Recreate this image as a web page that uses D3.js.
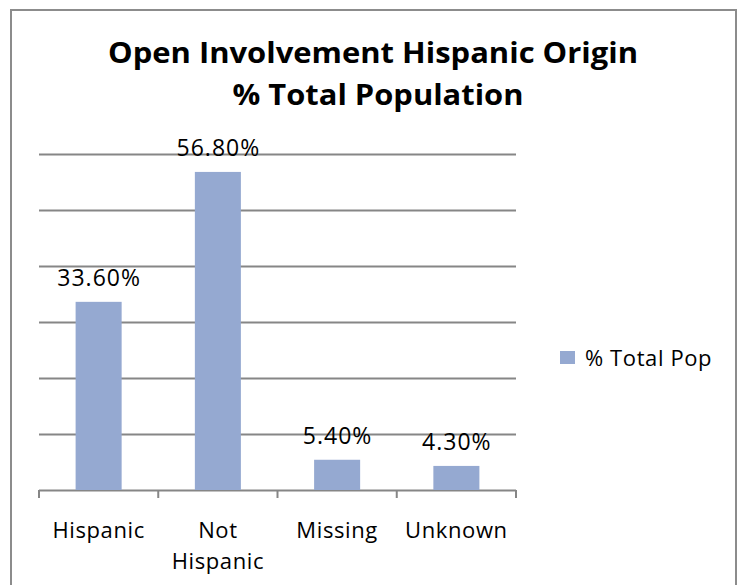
<!DOCTYPE html>
<html>
<head>
<meta charset="utf-8">
<script src="https://cdn.jsdelivr.net/npm/d3@7"></script>
<style>
  body { margin: 0; background: #fff; }
  text { font-family: "Open Sans", "Noto Sans", sans-serif; fill: #000; }
</style>
</head>
<body>
<div id="viz"></div>
<script>
const categories = ['Hispanic', 'Not Hispanic', 'Missing', 'Unknown']
const values = [33.6, 56.8, 5.4, 4.3]
const labels = ['33.60%', '56.80%', '5.40%', '4.30%']
const yTicks = [0, 10, 20, 30, 40, 50, 60]
const seriesName = '% Total Pop'
const titleLines = ['Open Involvement Hispanic Origin', '% Total Population']

const width = 742,
    height = 585

const plot = { left: 39, right: 516, top: 154, bottom: 490 }

const svg = d3.select('#viz').append('svg')
    .attr('width', width)
    .attr('height', height)

// outer frame
svg.append('rect')
    .attr('x', 11)
    .attr('y', 10)
    .attr('width', 725)
    .attr('height', 600)
    .attr('fill', 'none')
    .attr('stroke', '#8c8c8c')
    .attr('stroke-width', 2)

// title
const titleX = [373, 378],
    titleLen = [530, 291]
svg.selectAll('.title').data(titleLines)
    .enter()
    .append('text')
    .attr('class', 'title')
    .attr('x', (d, i) => titleX[i])
    .attr('y', (d, i) => 63 + i * 42)
    .attr('text-anchor', 'middle')
    .attr('font-weight', 'bold')
    .attr('font-size', 29)
    .attr('textLength', (d, i) => titleLen[i])
    .attr('lengthAdjust', 'spacingAndGlyphs')
    .text(d => d)

const x = d3.scaleBand()
    .domain(categories)
    .range([plot.left, plot.right])
    .paddingInner(0.614)
    .paddingOuter(0.307)

const y = d3.scaleLinear()
    .domain([0, 60])
    .range([plot.bottom, plot.top])

// gridlines
const yAxis = d3.axisLeft(y)
    .tickValues(yTicks)
    .tickSize(-(plot.right - plot.left))
    .tickFormat('')

const yAxisG = svg.append('g')
    .attr('transform', `translate(${plot.left}, 0)`)
    .call(yAxis)
yAxisG.select('.domain').remove()
yAxisG.selectAll('line')
    .attr('stroke', '#868686')
    .attr('stroke-width', 2)

// category tick marks at slot boundaries
const bounds = d3.range(categories.length + 1)
    .map(i => plot.left + i * x.step())
svg.selectAll('.xtick').data(bounds)
    .enter()
    .append('line')
    .attr('class', 'xtick')
    .attr('x1', d => d)
    .attr('x2', d => d)
    .attr('y1', y(0))
    .attr('y2', y(0) + 8)
    .attr('stroke', '#868686')
    .attr('stroke-width', 2)

// bars
svg.selectAll('.bar').data(values)
    .enter()
    .append('rect')
    .attr('class', 'bar')
    .attr('x', (d, i) => x(categories[i]))
    .attr('y', d => y(d))
    .attr('width', x.bandwidth())
    .attr('height', d => y(0) - y(d))
    .attr('fill', '#95a9d1')

// value labels
svg.selectAll('.vlabel').data(values)
    .enter()
    .append('text')
    .attr('class', 'vlabel')
    .attr('x', (d, i) => x(categories[i]) + x.bandwidth() / 2 + 0.5)
    .attr('y', d => y(d) - 16)
    .attr('text-anchor', 'middle')
    .attr('font-size', 23)
    .attr('letter-spacing', 1)
    .text((d, i) => labels[i])

// category labels (wrapped)
const catG = svg.selectAll('.cat').data(categories)
    .enter()
    .append('text')
    .attr('class', 'cat')
    .attr('text-anchor', 'middle')
    .attr('font-size', 22)
    .attr('letter-spacing', 0.6)
catG.each(function (d) {
    const cx = x(d) + x.bandwidth() / 2
    d.split(' ').forEach((w, j) => {
        d3.select(this).append('tspan')
            .attr('x', cx)
            .attr('y', y(0) + 48 + j * 31)
            .text(w)
    })
})

// legend
const legend = svg.append('g')
    .attr('transform', 'translate(560, 351)')
legend.append('rect')
    .attr('width', 15)
    .attr('height', 13)
    .attr('fill', '#95a9d1')
legend.append('text')
    .attr('x', 25)
    .attr('y', 15)
    .attr('font-size', 22)
    .attr('letter-spacing', 0.6)
    .text(seriesName)
</script>
</body>
</html>
